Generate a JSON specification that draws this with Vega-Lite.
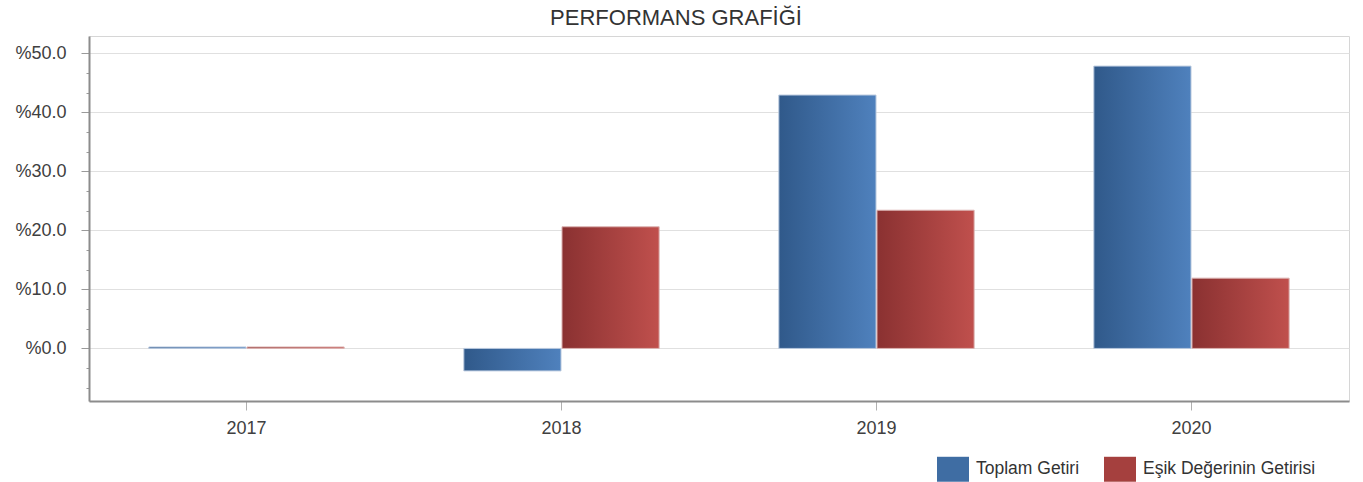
{
  "$schema": "https://vega.github.io/schema/vega-lite/v6.json",
  "width": 1260,
  "height": 365,
  "autosize": "none",
  "padding": {"left": 89, "top": 36, "right": 14, "bottom": 81},
  "background": "white",
  "title": {
    "text": "PERFORMANS GRAFİĞİ",
    "font": "Liberation Sans",
    "fontSize": 22,
    "fontWeight": "normal",
    "color": "#333333",
    "anchor": "middle",
    "frame": "group",
    "dx": -43,
    "offset": 6
  },
  "config": {
    "view": {"stroke": "#d6d6d6", "strokeWidth": 1},
    "axis": {"labelFont": "Liberation Sans", "labelColor": "#404040", "labelFontSize": 18},
    "legend": {"labelFont": "Liberation Sans", "labelColor": "#333333", "labelFontSize": 17.5}
  },
  "data": {
    "values": [
      {"Yil": "2017", "Seri": "Toplam Getiri", "Deger": 0.25},
      {"Yil": "2017", "Seri": "Eşik Değerinin Getirisi", "Deger": 0.25},
      {"Yil": "2018", "Seri": "Toplam Getiri", "Deger": -3.8},
      {"Yil": "2018", "Seri": "Eşik Değerinin Getirisi", "Deger": 20.6},
      {"Yil": "2019", "Seri": "Toplam Getiri", "Deger": 42.9},
      {"Yil": "2019", "Seri": "Eşik Değerinin Getirisi", "Deger": 23.4},
      {"Yil": "2020", "Seri": "Toplam Getiri", "Deger": 47.8},
      {"Yil": "2020", "Seri": "Eşik Değerinin Getirisi", "Deger": 11.9}
    ]
  },
  "encoding": {
    "x": {
      "field": "Yil",
      "type": "nominal",
      "scale": {"paddingInner": 0.38, "paddingOuter": 0.19},
      "axis": {
        "title": null,
        "labelAngle": 0,
        "domainColor": "#8c8c8c",
        "domainWidth": 2,
        "tickColor": "#b0b0b0",
        "tickSize": 9,
        "labelPadding": 9
      }
    },
    "xOffset": {
      "field": "Seri",
      "type": "nominal",
      "sort": ["Toplam Getiri", "Eşik Değerinin Getirisi"],
      "scale": {"domain": ["Toplam Getiri", "Eşik Değerinin Getirisi"], "paddingInner": 0.01, "paddingOuter": 0}
    },
    "y": {
      "field": "Deger",
      "type": "quantitative",
      "scale": {"domain": [-8.9, 52.9], "nice": false, "zero": false},
      "axis": {
        "title": null,
        "values": [-6.6667, -3.3333, 0, 3.3333, 6.6667, 10, 13.3333, 16.6667, 20, 23.3333, 26.6667, 30, 33.3333, 36.6667, 40, 43.3333, 46.6667, 50],
        "labelExpr": "abs(datum.value % 10) < 0.001 ? '%' + format(datum.value, '.1f') : ''",
        "domainColor": "#8c8c8c",
        "domainWidth": 2,
        "tickColor": "#9a9a9a",
        "tickSize": {"condition": {"test": "abs(datum.value % 10) < 0.001", "value": 8}, "value": 3},
        "gridColor": "#e0e0e0",
        "gridOpacity": {"condition": {"test": "abs(datum.value % 10) < 0.001", "value": 1}, "value": 0},
        "labelPadding": 15
      }
    }
  },
  "layer": [
    {
      "transform": [{"filter": "datum.Seri === 'Toplam Getiri'"}],
      "mark": {
        "type": "bar",
        "stroke": "#b8c8de",
        "strokeWidth": 1,
        "fill": {"gradient": "linear", "x1": 0, "y1": 0, "x2": 1, "y2": 0, "stops": [{"offset": 0, "color": "#30598a"}, {"offset": 1, "color": "#4f81bd"}]}
      }
    },
    {
      "transform": [{"filter": "datum.Seri !== 'Toplam Getiri'"}],
      "mark": {
        "type": "bar",
        "stroke": "#dcb4b3",
        "strokeWidth": 1,
        "fill": {"gradient": "linear", "x1": 0, "y1": 0, "x2": 1, "y2": 0, "stops": [{"offset": 0, "color": "#8a3131"}, {"offset": 1, "color": "#c0504d"}]}
      }
    },
    {
      "transform": [{"filter": "false"}],
      "mark": {"type": "bar"},
      "encoding": {
        "fill": {
          "field": "Seri",
          "type": "nominal",
          "scale": {
            "domain": ["Toplam Getiri", "Eşik Değerinin Getirisi"],
            "range": ["#3f6da3", "#a5403e"]
          },
          "legend": {
            "title": null,
            "orient": "none",
            "direction": "horizontal",
            "legendX": 848,
            "legendY": 417,
            "padding": 0,
            "symbolType": "M-1,-0.78H1V0.78H-1Z",
            "symbolSize": 1024,
            "symbolStrokeWidth": 0,
            "symbolOpacity": 1,
            "labelOffset": 7,
            "columnPadding": 24,
            "labelLimit": 400
          }
        }
      }
    }
  ]
}
